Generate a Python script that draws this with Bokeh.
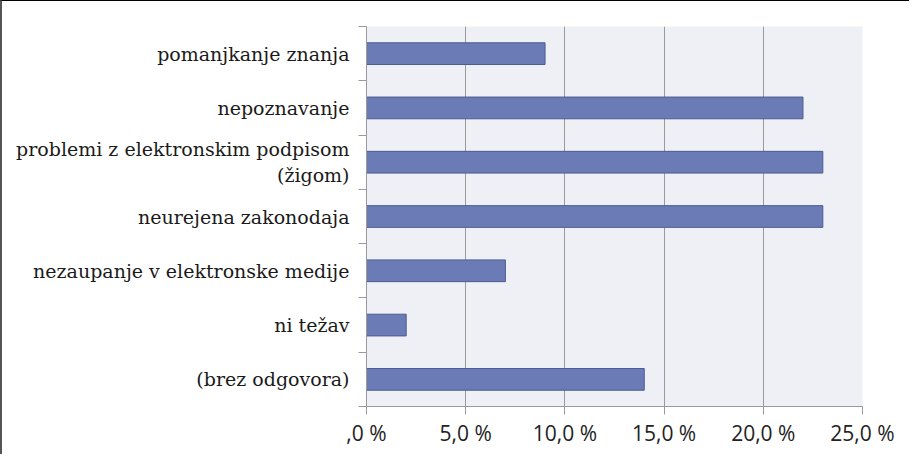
from bokeh.plotting import figure
from bokeh.models import LinearAxis, FixedTicker, Range1d, ColumnDataSource
from bokeh.embed import file_html
from bokeh.resources import INLINE

categories = [
    "pomanjkanje znanja",
    "nepoznavanje",
    "problemi z elektronskim podpisom\n(žigom)",
    "neurejena zakonodaja",
    "nezaupanje v elektronske medije",
    "ni težav",
    "(brez odgovora)",
]
values = [9.0, 22.0, 23.0, 23.0, 7.0, 2.0, 14.0]
x_ticks = [0, 5, 10, 15, 20, 25]
x_tick_labels = [",0 %", "5,0 %", "10,0 %", "15,0 %", "20,0 %", "25,0 %"]

n = len(categories)
ypos = [n - 0.5 - i for i in range(n)]
boundaries = list(range(n + 1))

p = figure(width=909, height=454, output_backend="svg", toolbar_location=None,
           x_range=Range1d(0, 25), y_range=Range1d(0, n),
           min_border_left=364, min_border_right=49, min_border_top=25, min_border_bottom=49,
           y_axis_location=None, x_axis_location=None)
p.styles = {"border-left": "2px solid #555", "border-top": "1px solid #000"}
p.outline_line_color = None
p.background_fill_color = "#eff0f5"
p.border_fill_color = "white"

src = ColumnDataSource(dict(y=ypos, v=values))
p.hbar(y="y", right="v", left=0, height=0.4, source=src,
       fill_color="#6a7bb5", line_color="#4c5b91", line_width=1)

p.ygrid.visible = False
p.xgrid.ticker = FixedTicker(ticks=x_ticks)
p.xgrid.grid_line_color = "#9a9a9a"
p.xgrid.grid_line_width = 1

# x axis
xa = LinearAxis(ticker=FixedTicker(ticks=x_ticks))
xa.major_label_overrides = {t: l for t, l in zip(x_ticks, x_tick_labels)}
xa.axis_line_color = "#9a9a9a"
xa.major_tick_line_color = "#9a9a9a"
xa.major_tick_out = 8
xa.major_tick_in = 0
xa.minor_tick_line_color = None
xa.major_label_standoff = 4
xa.major_label_text_font = "Open Sans"
xa.major_label_text_font_size = "21px"
xa.major_label_text_color = "#222222"
p.add_layout(xa, "below")

# y axis: tick marks at category boundaries
ya_ticks = LinearAxis(ticker=FixedTicker(ticks=boundaries))
ya_ticks.axis_line_color = "#9a9a9a"
ya_ticks.major_tick_line_color = "#9a9a9a"
ya_ticks.major_tick_out = 8
ya_ticks.major_tick_in = 0
ya_ticks.minor_tick_line_color = None
ya_ticks.major_label_text_font_size = "0px"
ya_ticks.major_label_standoff = 0
ya_ticks.major_label_overrides = {b: "" for b in boundaries}
p.add_layout(ya_ticks, "left")

# y axis: category labels at centers
ya_lab = LinearAxis(ticker=FixedTicker(ticks=ypos))
ya_lab.major_label_overrides = {y: c for y, c in zip(ypos, categories)}
ya_lab.axis_line_color = None
ya_lab.major_tick_line_color = None
ya_lab.minor_tick_line_color = None
ya_lab.major_label_standoff = 3
ya_lab.major_label_text_font = "DejaVu Serif"
ya_lab.major_label_text_font_size = "19px"
ya_lab.major_label_text_line_height = 1.2
ya_lab.major_label_text_color = "#1a1a1a"
p.add_layout(ya_lab, "left")

open("out.html", "w").write(file_html(p, INLINE))
